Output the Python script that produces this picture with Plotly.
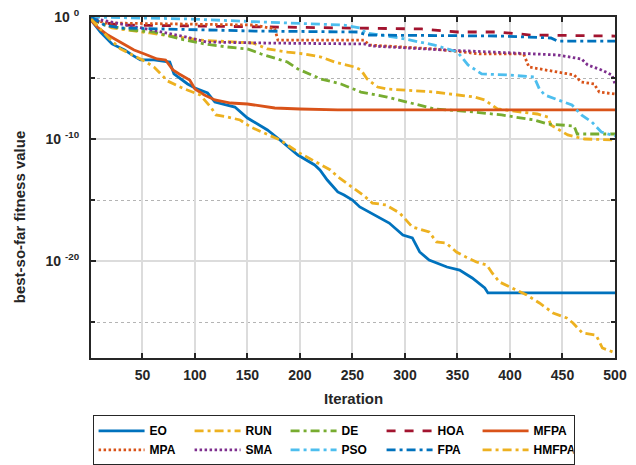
import plotly.graph_objects as go

# ---- data (iteration, log10 of best-so-far fitness) ----
EO_iter = [1, 10, 21, 33, 40, 48, 61, 76, 80, 93, 100, 112, 119, 138, 150, 169, 181, 198, 214, 219, 226, 236, 242, 250, 257, 276, 285, 298, 307, 314, 323, 340, 352, 364, 376, 379, 402, 500]
EO_log = [-0.25, -1.23, -2.21, -2.7, -3.11, -3.52, -3.52, -3.69, -4.67, -5.49, -5.82, -6.23, -6.97, -7.38, -8.28, -9.26, -10.08, -11.31, -12.13, -12.54, -13.36, -14.34, -14.59, -15.0, -15.57, -16.48, -16.89, -17.87, -18.11, -19.26, -19.92, -20.49, -20.74, -21.39, -22.21, -22.62, -22.62, -22.62]

RUN_iter = [1, 21, 57, 104, 155, 169, 188, 204, 220, 233, 252, 258, 264, 274, 283, 328, 366, 376, 388, 414, 426, 436, 439, 455, 471, 500]
RUN_log = [-0.08, -0.9, -1.31, -1.89, -2.13, -2.62, -2.87, -3.03, -3.28, -3.69, -4.1, -4.34, -5.08, -5.74, -5.9, -6.15, -6.56, -6.8, -7.54, -7.79, -7.95, -8.2, -8.85, -9.67, -10.0, -10.08]

DE_iter = [1, 14, 39, 61, 86, 109, 131, 150, 163, 173, 188, 198, 220, 239, 258, 283, 309, 328, 366, 392, 423, 436, 461, 464, 500]
DE_log = [-0.16, -0.66, -1.07, -1.23, -1.8, -2.21, -2.46, -2.62, -3.03, -3.28, -3.69, -4.26, -5.08, -5.49, -6.15, -6.56, -7.13, -7.54, -7.79, -8.03, -8.44, -8.77, -8.93, -9.59, -9.59]

HOA_iter = [1, 9, 29, 150, 316, 350, 388, 420, 500]
HOA_log = [-0.08, -0.41, -0.66, -0.82, -0.98, -1.23, -1.23, -1.48, -1.56]

MFPA_iter = [1, 7, 17, 29, 42, 52, 64, 72, 79, 85, 95, 100, 109, 119, 134, 150, 162, 176, 200, 236, 500]
MFPA_log = [-0.25, -0.82, -1.48, -2.05, -2.7, -3.03, -3.44, -3.52, -4.34, -4.67, -5.16, -5.9, -6.39, -6.8, -7.05, -7.13, -7.3, -7.46, -7.54, -7.62, -7.62]

MPA_iter = [1, 14, 157, 176, 179, 261, 266, 328, 372, 413, 418, 445, 461, 468, 480, 485, 500]
MPA_log = [-0.08, -0.49, -0.66, -0.98, -1.89, -1.89, -2.3, -2.62, -3.03, -3.03, -4.1, -4.51, -4.75, -5.33, -5.49, -6.15, -6.31]

SMA_iter = [1, 29, 45, 60, 92, 111, 164, 261, 269, 337, 413, 445, 468, 474, 487, 497, 500]
SMA_log = [-0.08, -0.57, -0.82, -1.07, -1.64, -2.05, -2.13, -2.21, -2.38, -2.7, -2.95, -3.11, -3.44, -3.93, -4.34, -4.75, -5.49]

PSO_iter = [1, 93, 164, 242, 257, 263, 295, 328, 350, 360, 373, 398, 423, 428, 433, 452, 459, 468, 478, 487, 500]
PSO_log = [0.0, -0.16, -0.41, -0.66, -0.9, -1.31, -1.72, -2.3, -2.87, -3.93, -4.67, -4.75, -4.92, -5.9, -6.39, -6.97, -7.21, -8.03, -8.61, -9.43, -9.75]

FPA_iter = [1, 14, 29, 157, 255, 264, 392, 439, 445, 500]
FPA_log = [0.0, -0.66, -0.9, -1.15, -1.23, -1.48, -1.56, -1.72, -1.97, -1.97]

HMFPA_iter = [1, 14, 17, 29, 45, 50, 61, 74, 90, 105, 115, 120, 131, 143, 153, 166, 181, 198, 217, 229, 236, 244, 260, 269, 282, 295, 307, 323, 330, 339, 349, 358, 368, 378, 383, 390, 402, 416, 428, 441, 454, 460, 469, 482, 488, 498, 500]
HMFPA_log = [-0.16, -1.39, -1.64, -2.62, -3.28, -3.52, -4.1, -5.25, -5.9, -6.39, -7.38, -8.03, -8.2, -8.44, -9.02, -9.51, -10.08, -11.07, -11.97, -12.54, -13.1, -13.6, -14.59, -15.25, -15.41, -16.07, -17.21, -17.62, -18.44, -18.52, -19.26, -19.67, -20.08, -20.33, -20.98, -21.72, -22.21, -22.79, -23.44, -24.26, -24.67, -25.08, -25.9, -26.07, -27.13, -27.46, -27.7]

X_TICKS = [50, 100, 150, 200, 250, 300, 350, 400, 450, 500]
Y_TICKS = [1e0, 1e-10, 1e-20]
Y_TICK_TEXT = ["10 <sup>0</sup>", "10 <sup>-10</sup>", "10 <sup>-20</sup>"]
Y_MINOR = [1e-5, 1e-15, 1e-25]

DASHDOT = "9px,4px,3px,4px"
DASHED = "9px,9px"
DOTTED = "2.5px,2.5px"

series = [
    ("EO", EO_iter, EO_log, "#0072BD", "solid"),
    ("RUN", RUN_iter, RUN_log, "#EDB120", DASHDOT),
    ("DE", DE_iter, DE_log, "#77AC30", DASHDOT),
    ("HOA", HOA_iter, HOA_log, "#A2142F", DASHED),
    ("MFPA", MFPA_iter, MFPA_log, "#D95319", "solid"),
    ("MPA", MPA_iter, MPA_log, "#D95319", DOTTED),
    ("SMA", SMA_iter, SMA_log, "#7E2F8E", DOTTED),
    ("PSO", PSO_iter, PSO_log, "#4DBEEE", DASHDOT),
    ("FPA", FPA_iter, FPA_log, "#0072BD", DASHDOT),
    ("HMFPA", HMFPA_iter, HMFPA_log, "#EDB120", DASHDOT),
]

FONT = "Liberation Sans"

fig = go.Figure()
for name, xs, ls, color, dash in series:
    fig.add_trace(go.Scatter(
        x=xs, y=[10 ** v for v in ls], mode="lines", name=name,
        line=dict(color=color, width=2.8, dash=dash),
    ))

fig.update_layout(
    width=636, height=465,
    margin=dict(l=91, r=21, t=17, b=107, autoexpand=False),
    paper_bgcolor="white", plot_bgcolor="white",
    font=dict(family=FONT, size=12, color="#262626", weight="bold"),
    showlegend=True,
    legend=dict(
        orientation="h", x=0.003, y=-0.168, xanchor="left", yanchor="top",
        entrywidth=35, entrywidthmode="pixels", itemwidth=46,
        bordercolor="#262626", borderwidth=1, bgcolor="white",
        font=dict(family=FONT, size=12, color="black", weight="bold"),
        tracegroupgap=0, traceorder="normal",
    ),
    annotations=[
        dict(text="best-so-far fitness value", xref="paper", yref="paper",
             x=-0.135, y=0.4135, xanchor="center", yanchor="middle", textangle=-90, showarrow=False,
             font=dict(family=FONT, size=15, color="#262626", weight="bold")),
        dict(text="Iteration", xref="paper", yref="paper",
             x=0.5, y=-0.12, xanchor="center", yanchor="middle", showarrow=False,
             font=dict(family=FONT, size=15, color="#262626", weight="bold")),
    ],
)

fig.update_xaxes(
    range=[1, 500], tickvals=X_TICKS, showgrid=True, gridcolor="#dcdcdc", gridwidth=1.5,
    zeroline=False, showline=True, linecolor="#262626", linewidth=2, mirror="ticks",
    ticks="inside", ticklen=5, tickwidth=2, tickcolor="#262626",
    ticklabelstandoff=3,
    tickfont=dict(family=FONT, size=14, color="#262626", weight="bold"),
)
fig.update_yaxes(
    type="log", range=[-27.95, 0], tickvals=Y_TICKS, ticktext=Y_TICK_TEXT,
    showgrid=True, gridcolor="#dcdcdc", gridwidth=1.5, zeroline=False,
    showline=True, linecolor="#262626", linewidth=2, mirror="ticks",
    ticks="inside", ticklen=5, tickwidth=2, tickcolor="#262626",
    ticklabelstandoff=7,
    tickfont=dict(family=FONT, size=14, color="#262626", weight="bold"),
    minor=dict(tickvals=Y_MINOR, ticks="inside", ticklen=4, tickwidth=2, tickcolor="#262626",
               showgrid=True, gridcolor="#b4b4b4", griddash="dot", gridwidth=1.2),
)

fig.write_html("out.html")
